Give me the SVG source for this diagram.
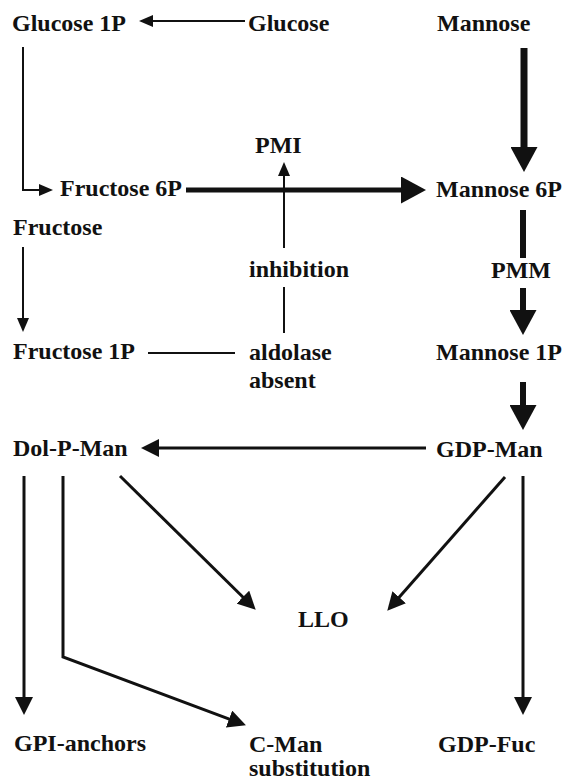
<svg xmlns="http://www.w3.org/2000/svg" width="563" height="780" viewBox="0 0 563 780">
<defs>
<style>
text{font-family:"Liberation Serif","Times New Roman",serif;font-weight:bold;font-size:24px;fill:#111;}
.thin{stroke:#111;stroke-width:2;fill:none;}
.mid{stroke:#111;stroke-width:3;fill:none;}
.thick{stroke:#111;stroke-width:6;fill:none;}
</style>
<marker id="hThin" markerUnits="userSpaceOnUse" markerWidth="14" markerHeight="12" refX="1" refY="6" orient="auto"><path d="M0,0 L14,6 L0,12 z" fill="#111"/></marker>
<marker id="hMid" markerUnits="userSpaceOnUse" markerWidth="18" markerHeight="18" refX="1" refY="9" orient="auto"><path d="M0,0 L18,9 L0,18 z" fill="#111"/></marker>
<marker id="hThick" markerUnits="userSpaceOnUse" markerWidth="25" markerHeight="27" refX="1" refY="13.5" orient="auto"><path d="M0,0 L25,13.5 L0,27 z" fill="#111"/></marker>
</defs>
<rect width="563" height="780" fill="#fff"/>
<g id="connectors">
<path class="thin" d="M245,21 H152" marker-end="url(#hThin)"/>
<path class="thin" d="M23,47 V190 H40" marker-end="url(#hThin)"/>
<path class="thin" d="M284,248 V175" marker-end="url(#hThin)"/>
<path class="thin" d="M23,247 V319" marker-end="url(#hThin)"/>
<path class="thin" d="M284,287 V333"/>
<path class="thin" d="M148,353 H235"/>
<path class="thick" style="stroke-width:5" d="M186,190 H402" marker-end="url(#hThick)"/>
<path class="thick" style="stroke-width:7" d="M524,48 V148" marker-end="url(#hThick)"/>
<path class="thick" d="M523,210 V258"/>
<path class="thick" d="M523,288 V311" marker-end="url(#hThick)"/>
<path class="thick" d="M523,382 V406" marker-end="url(#hThick)"/>
<path class="mid" d="M426,448 H158" marker-end="url(#hMid)"/>
<path class="mid" d="M24,476 V698" marker-end="url(#hMid)"/>
<path class="mid" d="M523,476 V698" marker-end="url(#hMid)"/>
<path class="mid" d="M120,476 L243.6,597.8" marker-end="url(#hMid)"/>
<path class="mid" d="M505,477 L398.5,598" marker-end="url(#hMid)"/>
<path class="mid" d="M63,476 V657 L230,719.4" marker-end="url(#hMid)"/>
</g>
<g id="glucose1p"><text x="12" y="31">Glucose 1P</text></g>
<g id="glucose"><text x="248" y="31">Glucose</text></g>
<g id="mannose"><text x="437" y="31">Mannose</text></g>
<g id="pmi"><text x="255" y="153">PMI</text></g>
<g id="fructose6p"><text x="60" y="196">Fructose 6P</text></g>
<g id="mannose6p"><text x="436" y="197">Mannose 6P</text></g>
<g id="fructose"><text x="13" y="235">Fructose</text></g>
<g id="inhibition"><text x="249" y="277">inhibition</text></g>
<g id="pmm"><text x="491" y="278">PMM</text></g>
<g id="fructose1p"><text x="13" y="359">Fructose 1P</text></g>
<g id="aldolase"><text x="249" y="360">aldolase</text><text x="249" y="388">absent</text></g>
<g id="mannose1p"><text x="436" y="360">Mannose 1P</text></g>
<g id="dolpman"><text x="13" y="456">Dol-P-Man</text></g>
<g id="gdpman"><text x="436" y="457">GDP-Man</text></g>
<g id="llo"><text x="298" y="627">LLO</text></g>
<g id="gpi"><text x="14" y="751">GPI-anchors</text></g>
<g id="cman"><text x="249" y="752">C-Man</text><text x="249" y="776">substitution</text></g>
<g id="gdpfuc"><text x="438" y="752">GDP-Fuc</text></g>
</svg>
